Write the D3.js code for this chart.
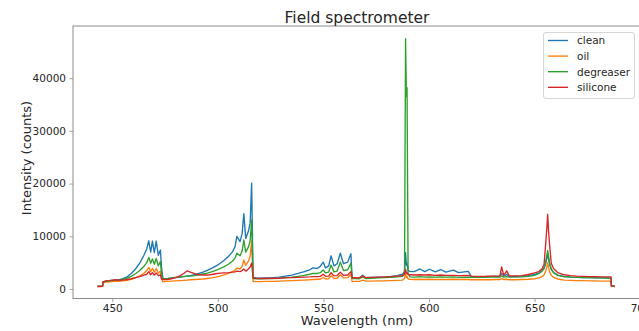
<!DOCTYPE html>
<html>
<head>
<meta charset="utf-8">
<script src="https://cdn.jsdelivr.net/npm/d3@7"></script>
<style>
  html, body { margin: 0; padding: 0; background: #fff; }
  svg { display: block; font-family: "DejaVu Sans", sans-serif; }
</style>
</head>
<body>
<svg id="chart" width="639" height="331"></svg>
<script>
// Wavelength sample points (nm), grouped by spectral region
const wavelength = [
  443.0, 445.4, 445.6, 447, 449, 451, 453, 455, 457, 459, 461, 463, 465,
  466.3, 467.3, 468.2, 469.0, 469.9, 470.8, 471.8, 472.8, 473.3, 474.0,
  476, 478, 480, 482, 484, 485.5, 487, 489, 491, 493, 495, 497, 499, 501, 503, 505, 507, 508.2, 509.0, 510.5, 511.5, 512.3, 513.2, 514.5, 515.3, 516.0, 516.7,
  518, 520, 523, 526, 529, 532, 535, 538, 541, 543.5, 545, 547, 548.5, 549.9, 551, 552.5, 553.6, 555, 556.5, 558.0, 559.5, 561.5, 563.0, 563.6,
  565, 567, 568.6, 570, 573, 576, 579, 582, 585, 587.5, 588.4,
  588.9, 589.3, 589.6, 590.1,
  591, 593, 595.7, 598, 600.2, 603, 605.5, 608, 611.5, 614, 618.6, 620, 623, 626, 629, 632,
  633.6, 634.4, 635.4, 636.8, 638, 641, 644, 647, 650,
  652, 653.5, 654.5, 655.3, 655.8, 656.2, 656.6, 657.1, 657.9, 659, 661,
  664, 667, 670, 673, 676, 679, 682, 685, 686.2, 686.4, 688.1
];

// Intensity (counts) for each sample
const clean = [
  520, 560, 1350, 1500, 1650, 1700, 1750, 1950, 2300, 2950, 3800, 4900, 6400,
  7600, 9150, 7000, 9100, 6900, 9100, 6400, 7400, 4200, 1950,
  1950, 2050, 2150, 2250, 2350, 2450, 2550, 2700, 2950, 3200, 3550, 3900, 4350, 4850, 5450, 6150, 7100, 8100, 10000, 9000, 10500, 14300, 9600, 11000, 12500, 20100, 2200,
  2100, 2050, 2100, 2150, 2250, 2450, 2650, 2950, 3300, 3650, 4000, 3900, 4300, 5100, 4000, 4400, 6300, 4400, 4800, 6800, 4800, 5100, 6700, 2200,
  2150, 2100, 2600, 2150, 2200, 2250, 2300, 2400, 2550, 2800, 3300,
  6900, 4500, 4900, 3500,
  3350, 3300, 3800, 3300, 3750, 3250, 3700, 3200, 3600, 3100, 3350, 2400, 2350, 2350, 2400, 2400,
  2450, 3000, 2500, 2750, 2400, 2400, 2450, 2550, 2750,
  3000, 3400, 3900, 4900, 5800, 6500, 5700, 4700, 3700, 3100, 2650,
  2350, 2250, 2200, 2150, 2150, 2100, 2100, 2100, 2050, 550, 500
];

const oil = [
  480, 520, 1150, 1300, 1350, 1450, 1450, 1550, 1650, 1850, 2100, 2500, 3000,
  3500, 4100, 3300, 3900, 3200, 3900, 3000, 3400, 2100, 1350,
  1450, 1500, 1550, 1600, 1650, 1700, 1750, 1800, 1850, 1900, 2000, 2100, 2250, 2450, 2700, 2950, 3300, 3600, 3950, 3800, 4300, 5500, 4500, 5300, 6200, 9100, 1400,
  1400, 1400, 1450, 1450, 1500, 1550, 1600, 1650, 1700, 1750, 1800, 1850, 1850, 2200, 1900, 1950, 2500, 2000, 2050, 2700, 2100, 2150, 2800, 1400,
  1450, 1450, 1700, 1500, 1500, 1550, 1550, 1600, 1650, 1700, 2000,
  3000, 2200, 2400, 1900,
  1850, 1800, 1850, 1800, 1850, 1800, 1800, 1800, 1850, 1800, 1800, 1750, 1750, 1750, 1750, 1800,
  1800, 1950, 1800, 1850, 1750, 1750, 1800, 1850, 1950,
  2100, 2350, 2700, 3400, 4200, 5000, 4100, 3300, 2600, 2200, 1900,
  1700, 1650, 1600, 1600, 1550, 1550, 1500, 1500, 1500, 520, 480
];

const degreaser = [
  500, 540, 1300, 1450, 1550, 1650, 1650, 1800, 2050, 2400, 2900, 3500, 4300,
  5000, 6000, 4900, 5700, 4700, 5800, 4400, 5200, 3000, 1850,
  1950, 2100, 2200, 2300, 2400, 2450, 2450, 2550, 2700, 2850, 3000, 3250, 3550, 3850, 4250, 4700, 5300, 5900, 6800, 6300, 7200, 9300, 7000, 8000, 9100, 13100, 2000,
  1950, 1950, 2000, 2000, 2050, 2150, 2250, 2400, 2600, 2800, 2950, 2950, 3100, 3600, 3050, 3200, 4550, 3250, 3400, 5100, 3500, 3650, 4900, 2000,
  2000, 1950, 2300, 2000, 2050, 2100, 2150, 2200, 2300, 2400, 3000,
  47500, 36500, 38200, 3000,
  2300, 2250, 2350, 2250, 2300, 2250, 2300, 2250, 2300, 2200, 2250, 2200, 2200, 2200, 2250, 2250,
  2250, 2500, 2250, 2350, 2250, 2250, 2300, 2400, 2600,
  2900, 3400, 4000, 5200, 6400, 7300, 6300, 5000, 3800, 3100, 2600,
  2350, 2250, 2200, 2150, 2150, 2100, 2100, 2050, 2050, 560, 520
];

const silicone = [
  470, 510, 1350, 1550, 1600, 1750, 1700, 1700, 1800, 1950, 2150, 2350, 2650,
  2800, 3300, 2700, 3100, 2650, 3050, 2550, 2700, 1900, 1800,
  1800, 1950, 2150, 2500, 3000, 3450, 3200, 2900, 2700, 2650, 2650, 2750, 2900, 3000, 3050, 3100, 3200, 3250, 3400, 3300, 3500, 3800, 3400, 3800, 4200, 4900, 2100,
  2050, 2000, 2000, 2050, 2050, 2100, 2150, 2200, 2250, 2300, 2350, 2350, 2400, 2800, 2400, 2450, 3100, 2500, 2550, 3200, 2600, 2650, 3300, 2100,
  2150, 2100, 2500, 2150, 2200, 2250, 2300, 2350, 2450, 2550, 2800,
  3700, 3000, 3100, 2700,
  2700, 2650, 2700, 2650, 2700, 2600, 2650, 2600, 2600, 2550, 2600, 2450, 2400, 2400, 2450, 2450,
  2500, 4200, 2600, 3450, 2500, 2500, 2550, 2750, 3050,
  3300, 3800, 4700, 8800, 11500, 14200, 11200, 8500, 4900, 3900, 3100,
  2700, 2550, 2450, 2400, 2350, 2350, 2300, 2300, 2300, 600, 540
];

const seriesNames = ["clean", "oil", "degreaser", "silicone"];
const seriesValues = [clean, oil, degreaser, silicone];
const seriesColors = ["#1f77b4", "#ff7f0e", "#2ca02c", "#d62728"];

const xTicks = [450, 500, 550, 600, 650, 700];
const yTicks = [0, 10000, 20000, 30000, 40000];

const titleText = "Field spectrometer";
const xLabel = "Wavelength (nm)";
const yLabel = "Intensity (counts)";

// ---- layout ----
const svg = d3.select("#chart");
const plot = { left: 73, right: 641, top: 26, bottom: 298.5 };

const x = d3.scaleLinear().domain([431.4, 700.4]).range([plot.left, plot.right]);
const y = d3.scaleLinear().domain([-1800, 49900]).range([plot.bottom, plot.top]);

const axisColor = "#8c8c8c";
const textColor = "#262626";

// spectra
const line = d3.line()
  .x((d, i) => x(wavelength[i]))
  .y(d => y(d));

svg.append("g")
  .selectAll("path")
  .data(seriesValues)
  .join("path")
  .attr("d", d => line(d))
  .attr("fill", "none")
  .attr("stroke", (d, i) => seriesColors[i])
  .attr("stroke-width", 1.35)
  .attr("stroke-linejoin", "round");

// axes
const xAxis = d3.axisBottom(x).tickValues(xTicks).tickSize(3.5).tickPadding(3);
const yAxis = d3.axisLeft(y).tickValues(yTicks).tickSize(3.5).tickPadding(3.5)
  .tickFormat(d3.format("d"));

const gx = svg.append("g").attr("transform", `translate(0,${plot.bottom})`).call(xAxis);
const gy = svg.append("g").attr("transform", `translate(${plot.left},0)`).call(yAxis);

[gx, gy].forEach(g => {
  g.select(".domain").remove();
  g.selectAll(".tick line").attr("stroke", axisColor).attr("stroke-width", 0.8);
  g.selectAll(".tick text")
    .attr("fill", textColor)
    .style("font-family", "'DejaVu Sans', sans-serif")
    .style("font-size", "10.5px");
});

// frame
svg.append("rect")
  .attr("x", plot.left)
  .attr("y", plot.top)
  .attr("width", plot.right - plot.left)
  .attr("height", plot.bottom - plot.top)
  .attr("fill", "none")
  .attr("stroke", axisColor)
  .attr("stroke-width", 1);

// title and axis labels
const cx = (plot.left + plot.right) / 2;
svg.append("text")
  .attr("x", cx).attr("y", 23)
  .attr("text-anchor", "middle")
  .attr("fill", textColor)
  .style("font-size", "15.5px")
  .text(titleText);

svg.append("text")
  .attr("x", cx).attr("y", 325)
  .attr("text-anchor", "middle")
  .attr("fill", textColor)
  .style("font-size", "13px")
  .text(xLabel);

svg.append("text")
  .attr("transform", `translate(31,${158}) rotate(-90)`)
  .attr("text-anchor", "middle")
  .attr("fill", textColor)
  .style("font-size", "13px")
  .text(yLabel);

// legend
const legend = svg.append("g");
legend.append("rect")
  .attr("x", 543.5).attr("y", 32.5)
  .attr("width", 91).attr("height", 66)
  .attr("rx", 2.5)
  .attr("fill", "#fff")
  .attr("fill-opacity", 0.8)
  .attr("stroke", "#d6d6d6")
  .attr("stroke-width", 1);

const rows = legend.selectAll("g.row")
  .data(seriesNames)
  .join("g")
  .attr("class", "row")
  .attr("transform", (d, i) => `translate(0,${40.5 + i * 15.6})`);

rows.append("line")
  .attr("x1", 548).attr("x2", 568)
  .attr("y1", 0).attr("y2", 0)
  .attr("stroke", (d, i) => seriesColors[i])
  .attr("stroke-width", 1.35);

rows.append("text")
  .attr("x", 577).attr("y", 3.8)
  .attr("fill", textColor)
  .style("font-size", "10.5px")
  .text(d => d);
</script>
</body>
</html>
